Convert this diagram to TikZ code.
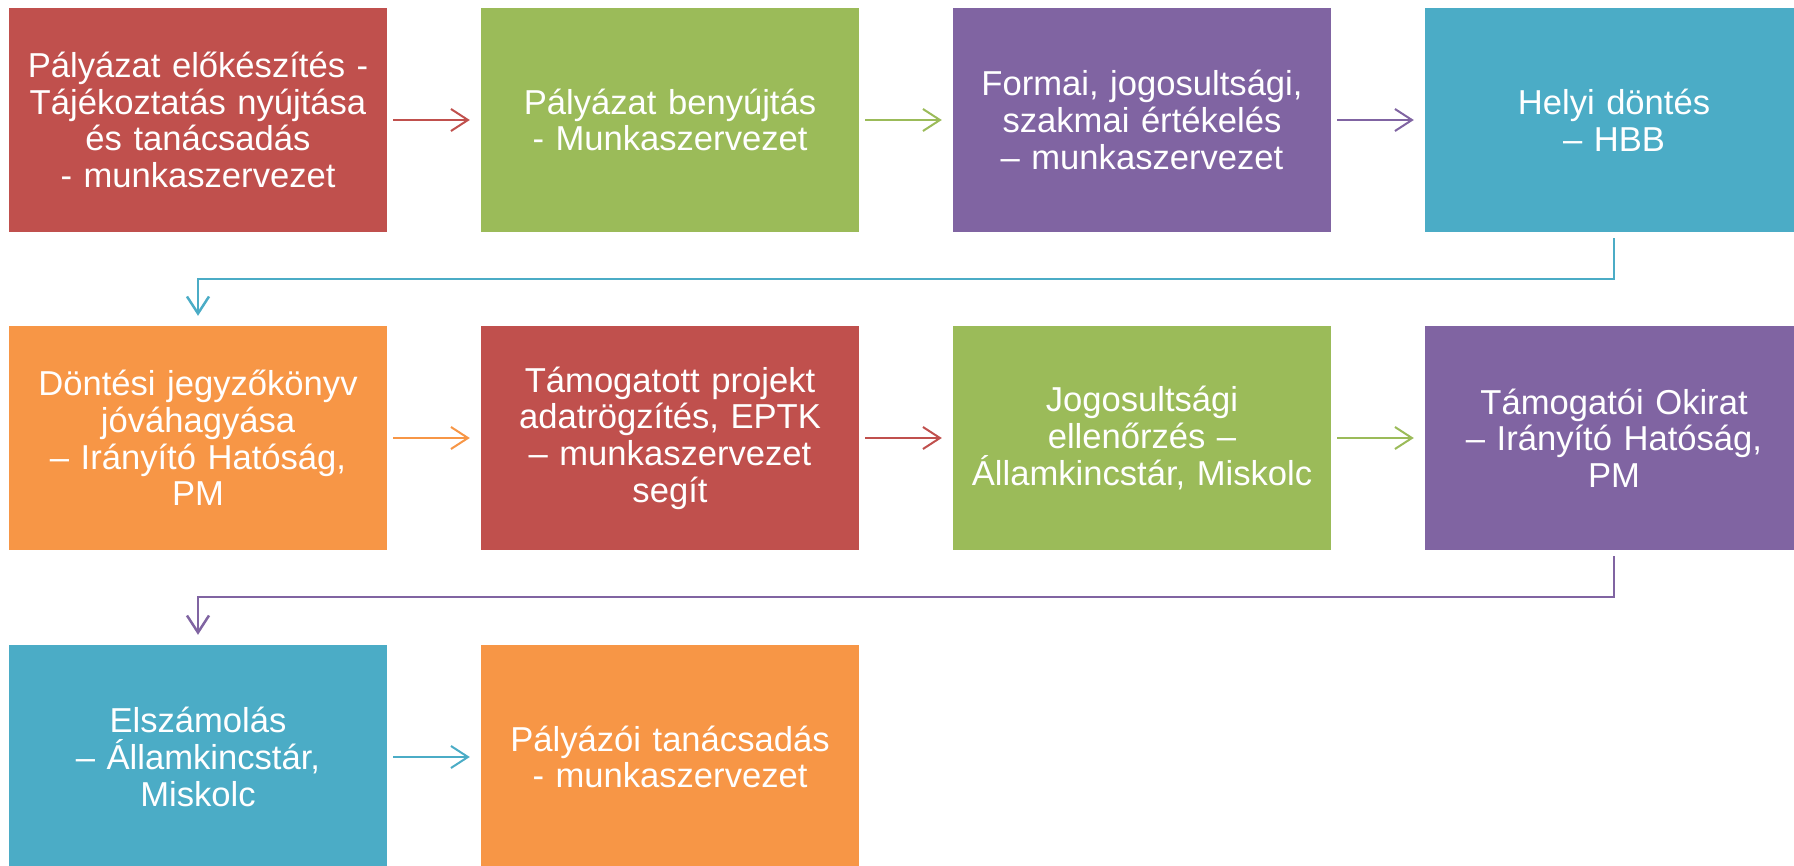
\documentclass[tikz,border=0pt]{standalone}
\usepackage{fontspec}
\setmainfont{Liberation Sans}
\usepackage{xcolor}
\usetikzlibrary{arrows.meta}

\definecolor{stepred}{HTML}{C0504D}
\definecolor{stepgreen}{HTML}{9BBB59}
\definecolor{steppurple}{HTML}{8064A2}
\definecolor{stepaqua}{HTML}{4BACC6}
\definecolor{steporange}{HTML}{F79646}

\tikzset{
  stepbox/.style={fill=#1, text=white, inner sep=0pt,
    minimum width=378pt, minimum height=224pt, text width=378pt, align=center,
    font=\fontsize{34.6}{36.7}\selectfont},
  flow/.style={draw=#1, line width=2pt, -{Straight Barb[length=17pt,width=22pt]},
    shorten <=6pt, shorten >=11pt},
  turn/.style={draw=#1, line width=2.5pt, -{Straight Barb[length=17pt,width=22pt]},
    shorten <=6pt, shorten >=10pt}
}

\begin{document}
\begin{tikzpicture}[x=1pt, y=-1pt]
        \useasboundingbox (0,0) rectangle (1794,866);
        \clip (0,0) rectangle (1794,866);

        % first row
        \node[stepbox=stepred] (b11) at (198,120) {Pályázat előkészítés -\\Tájékoztatás nyújtása\\és tanácsadás\\- munkaszervezet};
        \node[stepbox=stepgreen] (b12) at (670,120) {Pályázat benyújtás\\- Munkaszervezet};
        \node[stepbox=steppurple] (b13) at (1142,120) {Formai, jogosultsági,\\szakmai értékelés\\– munkaszervezet};
        \node[stepbox=stepaqua] (b14) at (1614,120) {Helyi döntés\\– HBB};

        % second row
        \node[stepbox=steporange] (b21) at (198,438) {Döntési jegyzőkönyv\\jóváhagyása\\– Irányító Hatóság,\\PM};
        \node[stepbox=stepred] (b22) at (670,438) {Támogatott projekt\\adatrögzítés, EPTK\\– munkaszervezet\\segít};
        \node[stepbox=stepgreen] (b23) at (1142,438) {Jogosultsági\\ellenőrzés –\\Államkincstár, Miskolc};
        \node[stepbox=steppurple] (b24) at (1614,438) {Támogatói Okirat\\– Irányító Hatóság,\\PM};

        % third row
        \node[stepbox=stepaqua] (b31) at (198,757) {Elszámolás\\– Államkincstár,\\Miskolc};
        \node[stepbox=steporange] (b32) at (670,757) {Pályázói tanácsadás\\- munkaszervezet};

        \draw[flow=stepred] (b11) -- (b12);
        \draw[flow=stepgreen] (b12) -- (b13);
        \draw[flow=steppurple] (b13) -- (b14);
        \draw[flow=steporange] (b21) -- (b22);
        \draw[flow=stepred] (b22) -- (b23);
        \draw[flow=stepgreen] (b23) -- (b24);
        \draw[flow=stepaqua] (b31) -- (b32);

        \draw[turn=stepaqua] (b14.south) -- ([yshift=-47pt]b14.south) -| (b21.north);
        \draw[turn=steppurple] (b24.south) -- ([yshift=-47pt]b24.south) -| (b31.north);
    \end{tikzpicture}
\end{document}
